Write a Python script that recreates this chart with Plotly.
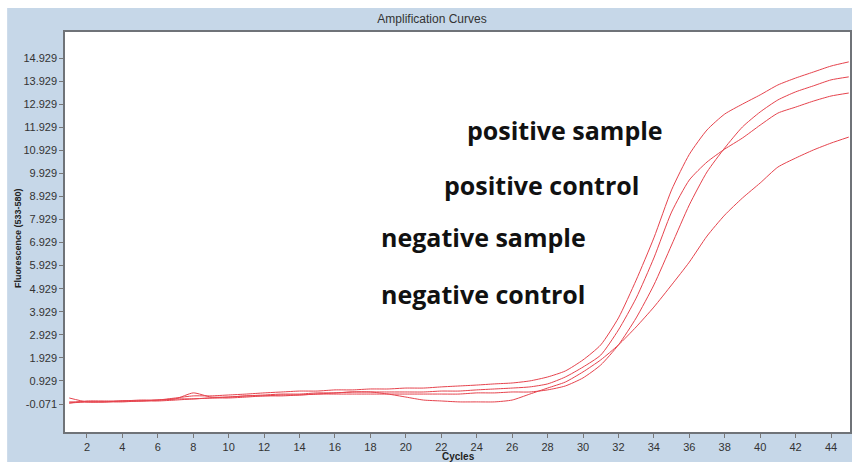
import plotly.graph_objects as go

cycles = list(range(1, 46))

positive_sample = [0.19, 0.02, 0.02, 0.06, 0.06, 0.10, 0.19, 0.28, 0.28, 0.32,
                   0.36, 0.41, 0.45, 0.49, 0.49, 0.54, 0.54, 0.58, 0.58, 0.62,
                   0.62, 0.67, 0.71, 0.75, 0.80, 0.84, 0.93, 1.10, 1.36, 1.84,
                   2.49, 3.66, 5.30, 7.13, 9.21, 10.75, 11.81, 12.50, 12.93, 13.33,
                   13.76, 14.06, 14.32, 14.58, 14.76]

positive_control = [-0.03, 0.06, 0.06, 0.06, 0.10, 0.10, 0.15, 0.41, 0.23, 0.23,
                    0.28, 0.32, 0.36, 0.36, 0.41, 0.41, 0.45, 0.45, 0.45, 0.45,
                    0.45, 0.49, 0.49, 0.54, 0.58, 0.62, 0.67, 0.80, 1.10, 1.53,
                    2.05, 3.14, 4.52, 6.26, 8.25, 9.64, 10.42, 10.98, 11.46, 12.02,
                    12.54, 12.80, 13.06, 13.28, 13.41]

negative_sample = [0.02, 0.02, 0.02, 0.06, 0.06, 0.10, 0.15, 0.15, 0.19, 0.23,
                   0.28, 0.28, 0.32, 0.32, 0.36, 0.36, 0.36, 0.36, 0.36, 0.36,
                   0.36, 0.36, 0.36, 0.41, 0.41, 0.45, 0.45, 0.54, 0.71, 1.06,
                   1.62, 2.49, 3.66, 5.09, 6.82, 8.56, 9.99, 11.03, 11.94, 12.59,
                   13.11, 13.46, 13.72, 13.98, 14.11]

negative_control = [-0.03, 0.02, 0.02, 0.02, 0.06, 0.06, 0.10, 0.15, 0.19, 0.19,
                    0.23, 0.28, 0.28, 0.32, 0.36, 0.41, 0.45, 0.45, 0.36, 0.23,
                    0.10, 0.06, 0.02, 0.02, 0.02, 0.10, 0.36, 0.62, 0.88, 1.32,
                    1.84, 2.49, 3.27, 4.13, 5.09, 6.08, 7.21, 8.12, 8.86, 9.51,
                    10.20, 10.59, 10.94, 11.24, 11.50]

series = {
    "positive sample": positive_sample,
    "positive control": positive_control,
    "negative sample": negative_sample,
    "negative control": negative_control,
}

y_tickvals = [-0.071 + i for i in range(16)]
y_ticktext = ["%.3f" % v for v in y_tickvals]
x_tickvals = list(range(2, 46, 2))

labels = ["positive sample", "positive control", "negative sample", "negative control"]

W, H = 852, 462
ML, MR, MT, MB = 65, 0, 32, 30
PW, PH = W - ML - MR, H - MT - MB

def px_x(px):
    return (px - ML) / PW

def px_y(py):
    return (H - MB - py) / PH

fig = go.Figure()
for name, vals in series.items():
    fig.add_trace(go.Scatter(
        x=cycles, y=vals, mode="lines", name=name,
        line=dict(color="#e6434d", width=1, shape="spline", smoothing=0.6),
        showlegend=False, hoverinfo="skip"))

label_pos = [(466, 129.5), (443, 184.5), (380, 236.5), (380, 293.5)]
annotations = []
for text, (lx, ly) in zip(labels, label_pos):
    annotations.append(dict(
        text=text, x=px_x(lx), y=px_y(ly), xref="paper", yref="paper",
        xanchor="left", yanchor="middle", showarrow=False,
        font=dict(family="Open Sans", size=25, color="#111111", weight="bold")))

annotations.append(dict(
    text="<b>Fluorescence (533-580)</b>", x=px_x(18), y=px_y(238),
    xref="paper", yref="paper", textangle=-90, showarrow=False,
    xanchor="center", yanchor="middle",
    font=dict(family="Liberation Sans", size=9, color="#222222")))
annotations.append(dict(
    text="<b>Cycles</b>", x=px_x(460), y=px_y(456),
    xref="paper", yref="paper", showarrow=False,
    xanchor="center", yanchor="middle",
    font=dict(family="Liberation Sans", size=10, color="#222222")))

shapes = [
    dict(type="rect", xref="paper", yref="paper", layer="below",
         x0=px_x(7), x1=px_x(860), y0=px_y(470), y1=px_y(8),
         fillcolor="#c6d7e8", line=dict(width=0)),
    dict(type="rect", xref="paper", yref="paper", layer="below",
         x0=0, x1=1, y0=0, y1=1, fillcolor="white", line=dict(width=0)),
]

axis_font = dict(family="Liberation Sans", size=11, color="#333333")

fig.update_layout(
    width=W, height=H, autosize=False,
    margin=dict(l=ML, r=MR, t=MT, b=MB, pad=0),
    paper_bgcolor="white", plot_bgcolor="white",
    title=dict(text="Amplification Curves", x=432 / W, xanchor="center",
               y=1 - 19 / H, yanchor="middle", yref="container",
               font=dict(family="Liberation Sans", size=12, color="#333333")),
    xaxis=dict(range=[0.761, 45.07], tickvals=x_tickvals, showgrid=False,
               zeroline=False, showline=True, linecolor="#6f7378", linewidth=1.5,
               mirror=True, ticks="outside", ticklen=4, tickcolor="#777777",
               tickfont=axis_font),
    yaxis=dict(range=[-1.285, 16.056], tickvals=y_tickvals, ticktext=y_ticktext,
               showgrid=False, zeroline=False, showline=True, linecolor="#6f7378",
               linewidth=1.5, mirror=True, ticks="outside", ticklen=4,
               tickcolor="#777777", tickfont=axis_font),
    annotations=annotations, shapes=shapes,
)

fig.write_html("out.html")
